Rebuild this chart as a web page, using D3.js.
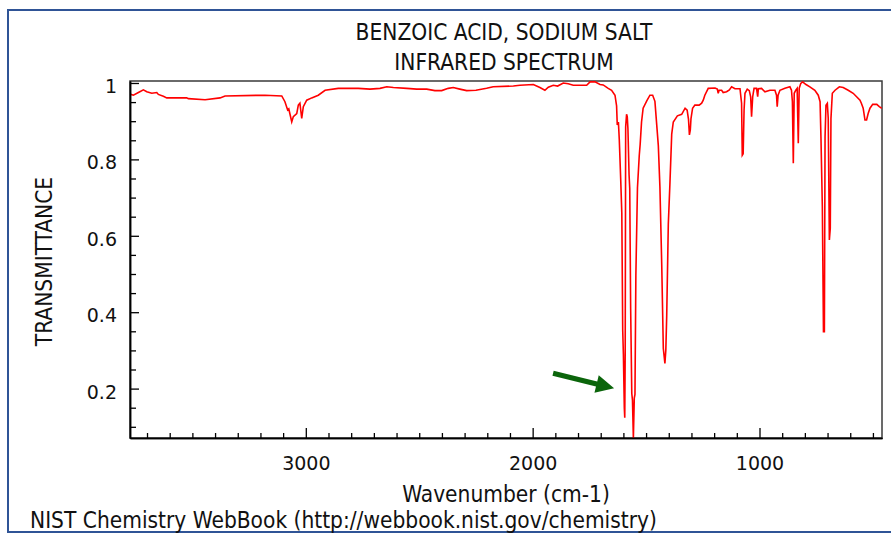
<!DOCTYPE html>
<html>
<head>
<meta charset="utf-8">
<script src="https://cdn.jsdelivr.net/npm/d3@7"></script>
<style>
  html, body { margin: 0; padding: 0; background: #fff; }
  svg { display: block; }
  text { fill: #111; }
  .label { font-family: "DejaVu Sans Condensed", "DejaVu Sans", sans-serif; font-stretch: condensed; }
</style>
</head>
<body>
<svg id="chart" width="891" height="534"></svg>
<script>
// IR spectrum of sodium benzoate: wavenumber (cm-1) and transmittance
const wavenumber = [
  3775, 3760, 3738, 3716, 3701, 3679, 3657, 3650, 3628, 3613, 3525, 3518, 3444, 3378, 3356,
  3180, 3106, 3092, 3080, 3075, 3062, 3055, 3040, 3033, 3026, 3018, 3011, 2996, 2974, 2945,
  2915, 2857, 2769, 2717, 2673, 2643, 2614, 2555, 2511, 2467, 2431, 2401, 2372, 2350, 2321,
  2291, 2250, 2203, 2174, 2085, 2056, 1997, 1968, 1946, 1931, 1909, 1890, 1865, 1843, 1821,
  1762, 1747, 1725, 1703, 1689, 1667, 1652, 1637, 1630, 1627, 1622, 1618, 1612, 1607, 1603,
  1600, 1596, 1594, 1592, 1590, 1586, 1583, 1580, 1575, 1572, 1568, 1563, 1560, 1556, 1552,
  1549, 1545, 1538, 1530, 1526, 1520, 1513, 1497, 1483, 1471, 1461, 1446, 1439, 1431, 1424,
  1417, 1413, 1409, 1402, 1395, 1387, 1380, 1362, 1343, 1328, 1319, 1313, 1309, 1305, 1302,
  1295, 1285, 1266, 1255, 1248, 1241, 1226, 1196, 1186, 1182, 1178, 1167, 1160, 1145, 1133,
  1123, 1108, 1086, 1079, 1076, 1072, 1068, 1064, 1054, 1045, 1039, 1035, 1030, 1024, 1013,
  1008, 1005, 991, 976, 954, 932, 925, 922, 918, 910, 888, 866, 859, 855, 851,
  847, 840, 834, 829, 825, 818, 810, 795, 778, 756, 741, 733, 729, 723, 718,
  714, 711, 707, 701, 697, 692, 688, 685, 679, 667, 648, 631, 609, 587, 572,
  557, 551, 543, 535, 528, 521, 513, 501, 483, 472, 461
];
const transmittance = [
  0.971, 0.968, 0.975, 0.982, 0.977, 0.973, 0.975, 0.970, 0.965, 0.961, 0.961, 0.959, 0.956, 0.961, 0.966,
  0.968, 0.966, 0.951, 0.929, 0.932, 0.898, 0.912, 0.920, 0.942, 0.947, 0.907, 0.938, 0.955, 0.961, 0.968,
  0.981, 0.986, 0.986, 0.984, 0.986, 0.990, 0.988, 0.986, 0.984, 0.984, 0.980, 0.980, 0.986, 0.988, 0.984,
  0.980, 0.981, 0.986, 0.990, 0.992, 0.994, 0.996, 0.988, 0.981, 0.989, 0.994, 0.992, 1.000, 0.998, 0.994,
  0.994, 1.003, 1.003, 0.996, 0.995, 0.986, 0.981, 0.968, 0.940, 0.890, 0.898, 0.850, 0.750, 0.660, 0.353,
  0.290, 0.150, 0.124, 0.300, 0.885, 0.918, 0.912, 0.880, 0.760, 0.724, 0.410, 0.187, 0.170, 0.070, 0.175,
  0.185, 0.497, 0.725, 0.811, 0.840, 0.898, 0.934, 0.953, 0.968, 0.968, 0.952, 0.836, 0.728, 0.525, 0.305,
  0.266, 0.300, 0.392, 0.630, 0.735, 0.866, 0.898, 0.914, 0.918, 0.934, 0.929, 0.905, 0.864, 0.877, 0.907,
  0.934, 0.942, 0.942, 0.947, 0.955, 0.968, 0.986, 0.987, 0.984, 0.973, 0.981, 0.981, 0.975, 0.977, 0.982,
  0.990, 0.985, 0.985, 0.947, 0.811, 0.815, 0.930, 0.973, 0.984, 0.980, 0.964, 0.912, 0.964, 0.986, 0.986,
  0.964, 0.985, 0.986, 0.977, 0.981, 0.981, 0.968, 0.938, 0.968, 0.981, 0.986, 0.990, 0.981, 0.951, 0.790,
  0.973, 0.981, 0.986, 0.842, 0.986, 0.999, 1.003, 0.996, 0.990, 0.981, 0.968, 0.951, 0.855, 0.676, 0.349,
  0.349, 0.859, 0.942, 0.947, 0.907, 0.589, 0.620, 0.907, 0.973, 0.981, 0.990, 0.988, 0.981, 0.973, 0.964,
  0.955, 0.947, 0.934, 0.903, 0.903, 0.920, 0.934, 0.944, 0.944, 0.938, 0.934
];

// Axis ticks
const xMajorTicks = [3000, 2000, 1000];
const xMinorTicks = d3.range(3700, 400, -100).filter(v => !xMajorTicks.includes(v));
const yMajorTicks = [0.2, 0.4, 0.6, 0.8, 1];
const yMajorLabels = ["0.2", "0.4", "0.6", "0.8", "1"];
const yMinorTicks = [0.1, 0.15, 0.25, 0.3, 0.35, 0.45, 0.5, 0.55, 0.65, 0.7, 0.75, 0.85, 0.9, 0.95];

// Annotation arrow (tail -> head) in data units
const arrowWavenumber = [1910, 1641];
const arrowTransmittance = [0.240, 0.201];

const titleLines = ["BENZOIC ACID, SODIUM SALT", "INFRARED SPECTRUM"];
const xAxisTitle = "Wavenumber (cm-1)";
const yAxisTitle = "TRANSMITTANCE";
const footer = "NIST Chemistry WebBook (http://webbook.nist.gov/chemistry)";

const svg = d3.select("#chart");
const plot = { left: 130, top: 81, right: 882, bottom: 438 };
const labelSize = 22.5;
const tickSize = 19;

// Outer frame
svg.append("rect")
  .attr("x", 8).attr("y", 10)
  .attr("width", 900).attr("height", 522)
  .attr("fill", "none")
  .attr("stroke", "#2f5496")
  .attr("stroke-width", 2);

const x = d3.scaleLinear().domain([3775, 460]).range([plot.left, plot.right]);
const y = d3.scaleLinear().domain([0.0707, 1.0052]).range([plot.bottom, plot.top]);

// Plot box
svg.append("rect")
  .attr("x", plot.left).attr("y", plot.top)
  .attr("width", plot.right - plot.left).attr("height", plot.bottom - plot.top)
  .attr("fill", "none").attr("stroke", "#3a3a3a").attr("stroke-width", 1.5);

// Spectrum
svg.append("clipPath").attr("id", "plotClip")
  .append("rect")
  .attr("x", plot.left).attr("y", plot.top)
  .attr("width", plot.right - plot.left).attr("height", plot.bottom - plot.top);

const points = wavenumber.map((w, i) => [w, transmittance[i]]);
const line = d3.line().x(d => x(d[0])).y(d => y(d[1]));
svg.append("path")
  .datum(points)
  .attr("clip-path", "url(#plotClip)")
  .attr("d", line)
  .attr("fill", "none")
  .attr("stroke", "#ff0000")
  .attr("stroke-width", 1.6)
  .attr("stroke-linejoin", "miter");

// X axis (ticks pointing into the plot)
const gx = svg.append("g").attr("transform", `translate(0,${plot.bottom})`);
gx.call(d3.axisBottom(x).tickValues(xMinorTicks).tickSize(-5).tickSizeOuter(0).tickFormat(""));
const gxMajor = svg.append("g").attr("transform", `translate(0,${plot.bottom})`);
gxMajor.call(d3.axisBottom(x).tickValues(xMajorTicks).tickSize(-10).tickSizeOuter(0)
  .tickPadding(19).tickFormat(d3.format("d")));

// Y axis
const gy = svg.append("g").attr("transform", `translate(${plot.left},0)`);
gy.call(d3.axisLeft(y).tickValues(yMinorTicks).tickSize(-6).tickSizeOuter(0).tickFormat(""));
const gyMajor = svg.append("g").attr("transform", `translate(${plot.left},0)`);
gyMajor.call(d3.axisLeft(y).tickValues(yMajorTicks).tickSize(-9).tickSizeOuter(0)
  .tickPadding(13).tickFormat((d, i) => yMajorLabels[i]));

svg.selectAll(".domain").attr("stroke", "#000").attr("stroke-width", 1.5);
svg.selectAll(".tick line").attr("stroke", "#000").attr("stroke-width", 1.3);
svg.selectAll(".tick text")
  .attr("font-size", tickSize)
  .attr("font-family", "DejaVu Sans, sans-serif")
  .attr("fill", "#111");
gyMajor.selectAll(".tick text").attr("dy", "0.5em");

// Titles
svg.selectAll("text.title")
  .data(titleLines)
  .join("text")
  .attr("class", "title label")
  .attr("x", (plot.left + plot.right) / 2 - 2)
  .attr("y", (d, i) => 40 + i * 30)
  .attr("text-anchor", "middle")
  .attr("font-size", labelSize)
  .text(d => d);

svg.append("text")
  .attr("class", "label")
  .attr("x", (plot.left + plot.right) / 2)
  .attr("y", 502)
  .attr("text-anchor", "middle")
  .attr("font-size", labelSize)
  .text(xAxisTitle);

svg.append("text")
  .attr("class", "label")
  .attr("transform", `translate(52,${(plot.top + plot.bottom) / 2 + 2}) rotate(-90)`)
  .attr("text-anchor", "middle")
  .attr("font-size", labelSize)
  .text(yAxisTitle);

svg.append("text")
  .attr("class", "label")
  .attr("x", 30)
  .attr("y", 528)
  .attr("font-size", labelSize)
  .text(footer);

// Green arrow pointing at the carboxylate band
const tail = [x(arrowWavenumber[0]), y(arrowTransmittance[0])];
const tip = [x(arrowWavenumber[1]), y(arrowTransmittance[1])];
const dx = tip[0] - tail[0], dy = tip[1] - tail[1];
const len = Math.hypot(dx, dy);
const ux = dx / len, uy = dy / len, px = -uy, py = ux;
const headLen = 18, headHalf = 9, shaftHalf = 2.6;
const base = [tip[0] - ux * headLen, tip[1] - uy * headLen];
const arrowPts = [
  [tail[0] + px * shaftHalf, tail[1] + py * shaftHalf],
  [base[0] + px * shaftHalf, base[1] + py * shaftHalf],
  [base[0] + px * headHalf, base[1] + py * headHalf],
  tip,
  [base[0] - px * headHalf, base[1] - py * headHalf],
  [base[0] - px * shaftHalf, base[1] - py * shaftHalf],
  [tail[0] - px * shaftHalf, tail[1] - py * shaftHalf]
];
svg.append("path")
  .attr("d", d3.line()(arrowPts) + "Z")
  .attr("fill", "#0b650b");
</script>
</body>
</html>
